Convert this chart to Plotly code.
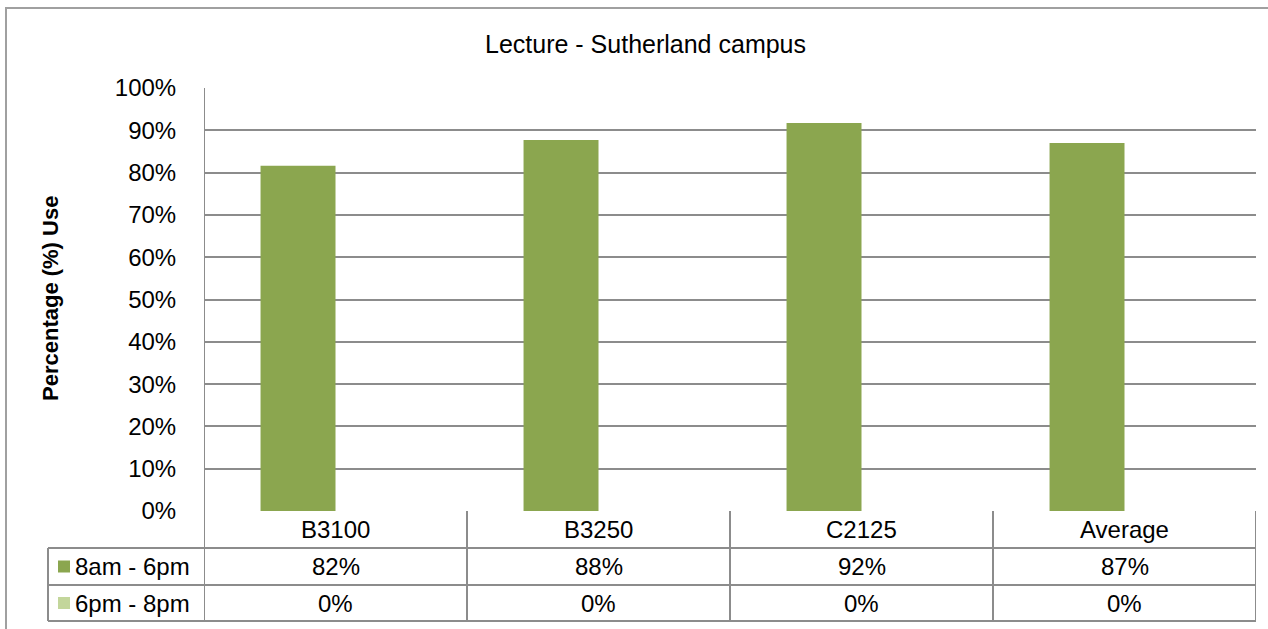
import plotly.graph_objects as go

title = "Lecture - Sutherland campus"
categories = ["B3100", "B3250", "C2125", "Average"]
series_names = ["8am - 6pm", "6pm - 8pm"]
day_use = [0.816, 0.877, 0.917, 0.870]
evening_use = [0.0, 0.0, 0.0, 0.0]
colors = ["#8BA64F", "#C3D69B"]
y_title = "Percentage (%) Use"

W, H = 1268, 629
L, R, T, B = 204, 12, 88, 118
pw, ph = W - L - R, H - T - B

def py(pix):  # pixel y -> paper y
    return (H - B - pix) / ph

def px(pix):  # pixel x -> paper x
    return (pix - L) / pw

FONT = "Liberation Sans"
GRID = "#8C8C8C"
FS = 24

fig = go.Figure()
for name, vals, col in zip(series_names, [day_use, evening_use], colors):
    fig.add_trace(go.Bar(x=categories, y=vals, name=name, marker=dict(color=col, line=dict(width=0)),
                         showlegend=False, hoverinfo="x+y"))

shapes = []
annotations = []
# outer chart border
shapes.append(dict(type="rect", xref="paper", yref="paper", x0=px(6), x1=px(1290), y0=py(8), y1=py(660),
                   line=dict(color="#A0A0A0", width=2), layer="below"))
# table horizontal lines
row_y = [548, 585, 621]
for yy in row_y:
    shapes.append(dict(type="line", xref="paper", yref="paper", x0=px(48), x1=1, y0=py(yy), y1=py(yy),
                       line=dict(color=GRID, width=2)))
# left column border
shapes.append(dict(type="line", xref="paper", yref="paper", x0=px(48), x1=px(48), y0=py(548), y1=py(621),
                   line=dict(color=GRID, width=2)))
# column separators (category boundaries) via data x
n = len(categories)
for i in range(n + 1):
    xb = i - 0.5
    shapes.append(dict(type="line", xref="x", yref="paper", x0=xb, x1=xb, y0=0 if i > 0 else 1, y1=py(621),
                       line=dict(color=GRID, width=2)))
# category labels and values
for i, c in enumerate(categories):
    annotations.append(dict(x=i, y=py(529.5), xref="x", yref="paper", text=c, showarrow=False,
                            font=dict(size=FS, color="black", family=FONT), xanchor="center", yanchor="middle"))
    for vals, yy in zip([day_use, evening_use], [566.5, 603]):
        annotations.append(dict(x=i, y=py(yy), xref="x", yref="paper", text=f"{round(vals[i]*100):.0f}%",
                                showarrow=False, font=dict(size=FS, color="black", family=FONT),
                                xanchor="center", yanchor="middle"))
# legend keys in table
for name, col, yy in zip(series_names, colors, [566.5, 603]):
    shapes.append(dict(type="rect", xref="paper", yref="paper", x0=px(58), x1=px(70), y0=py(yy - 6), y1=py(yy + 6),
                       fillcolor=col, line=dict(width=0)))
    annotations.append(dict(x=px(73), y=py(yy), xref="paper", yref="paper", text=name, showarrow=False,
                            font=dict(size=FS, color="black", family=FONT), xanchor="left", yanchor="middle"))
# title
annotations.append(dict(x=px(645), y=py(44), xref="paper", yref="paper", text=title, showarrow=False,
                        font=dict(size=25, color="black", family=FONT), xanchor="center", yanchor="middle"))
# y-axis title
annotations.append(dict(x=px(50), y=py(299), xref="paper", yref="paper", text=f"<b>{y_title}</b>", textangle=-90,
                        showarrow=False, font=dict(size=22, color="black", family=FONT),
                        xanchor="center", yanchor="middle"))

fig.update_layout(
    width=W, height=H, margin=dict(l=L, r=R, t=T, b=B),
    paper_bgcolor="white", plot_bgcolor="white",
    barmode="group", bargap=0.43, bargroupgap=0,
    font=dict(family=FONT, size=FS, color="black"),
    shapes=shapes, annotations=annotations,
    xaxis=dict(range=[-0.5, n - 0.5], showticklabels=False, showgrid=False, zeroline=False, showline=False,
               ticks="", fixedrange=True),
    yaxis=dict(range=[0, 1], dtick=0.1, tickformat=".0%", showgrid=True, gridcolor=GRID, gridwidth=2,
               zeroline=False, showline=False, ticks="outside", ticklen=22, tickcolor="rgba(0,0,0,0)",
               tickfont=dict(size=FS, family=FONT, color="black"), fixedrange=True),
)
fig.write_html("out.html", config={"displayModeBar": False},
               post_script="document.body.style.margin='0';document.body.style.overflow='hidden';")
